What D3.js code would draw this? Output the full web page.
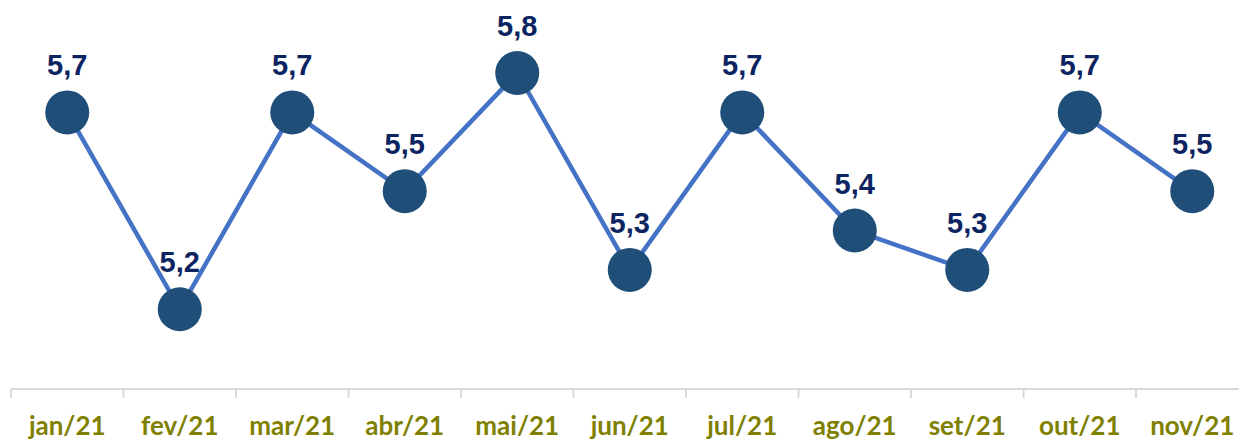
<!DOCTYPE html>
<html>
<head>
<meta charset="utf-8">
<script src="https://cdn.jsdelivr.net/npm/d3@7"></script>
<style>
  body { margin: 0; background: #fff; }
  svg { display: block; }
</style>
</head>
<body>
<div id="chart"></div>
<script>
// chart data
const months = ['jan/21', 'fev/21', 'mar/21', 'abr/21', 'mai/21', 'jun/21', 'jul/21', 'ago/21', 'set/21', 'out/21', 'nov/21'];
const values = [5.7, 5.2, 5.7, 5.5, 5.8, 5.3, 5.7, 5.4, 5.3, 5.7, 5.5];

const width = 1239, height = 441;

const svg = d3.select('#chart')
    .append('svg')
    .attr('width', width)
    .attr('height', height);

// band scale runs a little past the right edge, like the original
const x = d3.scaleBand()
    .domain(months)
    .range([11, 1248.5]);

const y = d3.scaleLinear()
    .domain([5.0, 5.8])
    .range([388, 73]);

// x axis
const axis = svg.append('g')
    .attr('transform', 'translate(0, 389)')
    .call(d3.axisBottom(x).tickSize(0).tickPadding(0).tickFormat(''));
axis.select('.domain').remove();

axis.append('line')
    .attr('x1', 11).attr('x2', width)
    .attr('stroke', '#d9d9d9').attr('stroke-width', 2);

// tick marks between the categories
axis.selectAll('.sep')
    .data(months)
    .enter()
    .append('line')
    .attr('class', 'sep')
    .attr('x1', d => x(d)).attr('x2', d => x(d))
    .attr('y1', 0).attr('y2', 9)
    .attr('stroke', '#d9d9d9').attr('stroke-width', 2);

axis.selectAll('.lbl')
    .data(months)
    .enter()
    .append('text')
    .attr('class', 'lbl')
    .attr('x', d => x(d) + x.bandwidth() / 2)
    .attr('y', 46)
    .attr('text-anchor', 'middle')
    .style('font-family', 'Lato, "Open Sans", sans-serif')
    .style('font-weight', 'bold')
    .style('font-size', '26px')
    .style('fill', '#7f7f00')
    .text(d => d);

const cx = (d, i) => x(months[i]) + x.bandwidth() / 2;

// line
const line = d3.line()
    .x((d, i) => cx(d, i))
    .y(d => y(d));

svg.append('path')
    .datum(values)
    .attr('d', line)
    .attr('fill', 'none')
    .attr('stroke', '#4472c4')
    .attr('stroke-width', 4.5);

// markers
svg.selectAll('circle')
    .data(values)
    .enter()
    .append('circle')
    .attr('cx', cx)
    .attr('cy', d => y(d))
    .attr('r', 22)
    .attr('fill', '#1f4e79');

// value labels
svg.selectAll('.val')
    .data(values)
    .enter()
    .append('text')
    .attr('class', 'val')
    .attr('x', cx)
    .attr('y', d => y(d) - 37)
    .attr('text-anchor', 'middle')
    .style('font-family', '"Liberation Sans", Arial, sans-serif')
    .style('font-weight', 'bold')
    .style('font-size', '29px')
    .style('fill', '#0c2461')
    .text(d => d.toFixed(1).replace('.', ','));
</script>
</body>
</html>
